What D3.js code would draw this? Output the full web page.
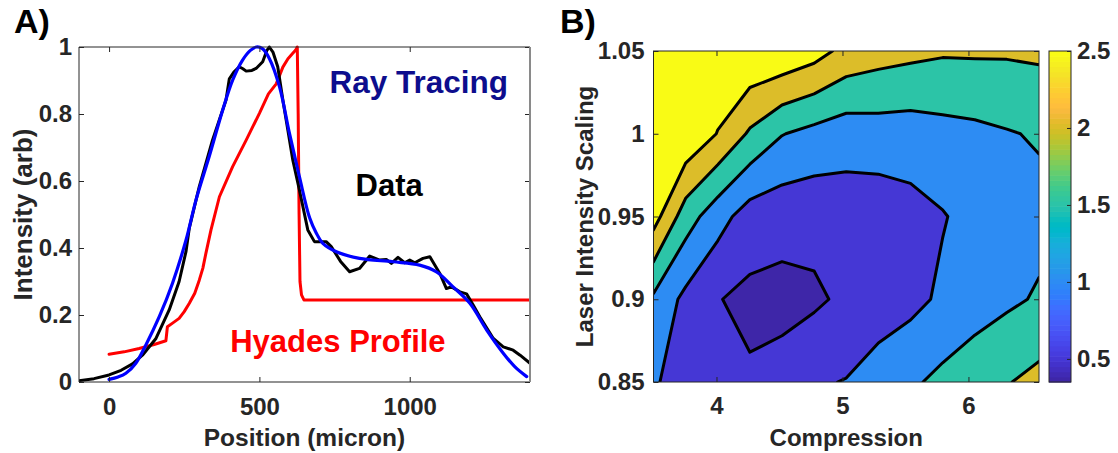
<!DOCTYPE html>
<html>
<head>
<meta charset="utf-8">
<script src="https://cdn.jsdelivr.net/npm/d3@7"></script>
<style>
  html, body { margin: 0; padding: 0; background: #fff; }
  svg text { font-family: "Liberation Sans", Arial, Helvetica, sans-serif; font-weight: bold; }
</style>
</head>
<body>
<svg id="chart" width="1118" height="453"></svg>
<script>
// ---------------- Panel A data ----------------
const dataPos = [-100,-50,0,40,78,111,156,200,233,256,267,300,344,389,400,415,433,445,456,475,489,511,525,533,545,561,578,595,611,633,661,683,722,739,770,800,833,867,900,922,939,961,983,1000,1017,1044,1067,1100,1122,1139,1167,1189,1211,1233,1278,1311,1344,1367,1400];
const dataInt = [0.004,0.01,0.021,0.035,0.054,0.08,0.13,0.215,0.3,0.39,0.46,0.583,0.722,0.842,0.905,0.925,0.941,0.935,0.928,0.93,0.936,0.956,0.99,1.0,0.985,0.941,0.842,0.75,0.663,0.573,0.454,0.419,0.419,0.404,0.36,0.329,0.339,0.376,0.364,0.366,0.354,0.372,0.356,0.364,0.356,0.369,0.374,0.324,0.279,0.284,0.269,0.263,0.23,0.195,0.13,0.105,0.095,0.08,0.056];

const rayPos = [0,30,56,89,122,167,211,256,289,333,378,411,444,470,490,510,533,567,600,633,667,689,711,756,833,944,1033,1089,1144,1200,1256,1311,1350,1389];
const rayInt = [0.008,0.015,0.026,0.056,0.11,0.195,0.295,0.424,0.543,0.673,0.812,0.901,0.961,0.99,1.0,0.995,0.966,0.881,0.742,0.613,0.49,0.445,0.414,0.389,0.369,0.359,0.349,0.329,0.284,0.235,0.155,0.086,0.045,0.016];

const hyadesPos = [0,50,100,150,189,194,210,233,250,267,285,300,312,322,339,367,411,456,500,530,556,578,595,611,620,626,629,632,635,640,648,1400];
const hyadesInt = [0.083,0.09,0.1,0.112,0.123,0.165,0.175,0.19,0.21,0.235,0.265,0.304,0.34,0.384,0.454,0.553,0.643,0.722,0.802,0.86,0.89,0.94,0.965,0.981,0.99,1.0,0.8,0.5,0.3,0.26,0.245,0.245];

const aXTicks = [0, 500, 1000];
const aXTickLabels = ["0", "500", "1000"];
const aYTicks = [0, 0.2, 0.4, 0.6, 0.8, 1];
const aYTickLabels = ["0", "0.2", "0.4", "0.6", "0.8", "1"];

// ---------------- Panel B data ----------------
const compressionGrid = [3.5, 3.755, 4.01, 4.265, 4.52, 4.775, 5.03, 5.285, 5.54, 5.795, 6.05, 6.305, 6.56];
const intensityGrid = [0.85, 0.9, 0.95, 1.0, 1.05];
// rows follow intensityGrid, columns follow compressionGrid
const zRow085 = [1.10, 0.60, 0.62, 0.563, 0.69, 0.946, 1.02, 1.268, 1.42, 1.626, 1.89, 1.97, 2.15];
const zRow090 = [1.41, 0.87, 0.52, 0.388, 0.35, 0.415, 0.60, 0.70, 0.86, 1.083, 1.20, 1.41, 1.55];
const zRow095 = [2.71, 1.74, 1.20, 0.762, 0.68, 0.664, 0.742, 0.722, 0.83, 0.971, 1.15, 1.30, 1.36];
const zRow100 = [3.00, 2.92, 2.48, 1.93, 1.52, 1.35, 1.22, 1.265, 1.255, 1.333, 1.385, 1.467, 1.545];
const zRow105 = [3.20, 3.10, 2.90, 2.95, 2.90, 2.70, 2.35, 2.21, 2.13, 2.058, 2.064, 2.06, 2.09];
const contourLevels = [0.5, 1, 1.5, 2, 2.5];
const colorLimits = [0.35, 2.5];
const bXTicks = [4, 5, 6];
const bXTickLabels = ["4", "5", "6"];
const bYTicks = [0.85, 0.9, 0.95, 1, 1.05];
const bYTickLabels = ["0.85", "0.9", "0.95", "1", "1.05"];
const cbTicks = [0.5, 1, 1.5, 2, 2.5];
const cbTickLabels = ["0.5", "1", "1.5", "2", "2.5"];

// parula colormap (64 entries)
const parula = [
[0.2422,0.1504,0.6603],[0.2504,0.1650,0.7076],[0.2578,0.1818,0.7511],[0.2647,0.1978,0.7952],[0.2706,0.2147,0.8364],[0.2751,0.2342,0.8710],[0.2783,0.2559,0.8991],[0.2803,0.2782,0.9221],
[0.2813,0.3006,0.9414],[0.2810,0.3228,0.9579],[0.2795,0.3447,0.9717],[0.2760,0.3667,0.9829],[0.2699,0.3892,0.9906],[0.2602,0.4123,0.9952],[0.2440,0.4358,0.9988],[0.2206,0.4603,0.9973],
[0.1963,0.4847,0.9892],[0.1834,0.5074,0.9798],[0.1786,0.5289,0.9682],[0.1764,0.5499,0.9520],[0.1687,0.5703,0.9359],[0.1540,0.5902,0.9218],[0.1460,0.6091,0.9079],[0.1380,0.6276,0.8973],
[0.1248,0.6459,0.8883],[0.1113,0.6635,0.8763],[0.0952,0.6798,0.8598],[0.0689,0.6948,0.8394],[0.0297,0.7082,0.8163],[0.0036,0.7203,0.7917],[0.0067,0.7312,0.7660],[0.0433,0.7411,0.7394],
[0.0964,0.7500,0.7120],[0.1408,0.7584,0.6842],[0.1717,0.7670,0.6554],[0.1938,0.7758,0.6251],[0.2161,0.7843,0.5923],[0.2470,0.7918,0.5567],[0.2906,0.7973,0.5188],[0.3406,0.8008,0.4789],
[0.3909,0.8029,0.4354],[0.4456,0.8024,0.3909],[0.5044,0.7993,0.3480],[0.5616,0.7942,0.3045],[0.6174,0.7876,0.2612],[0.6720,0.7793,0.2227],[0.7242,0.7698,0.1910],[0.7738,0.7598,0.1646],
[0.8203,0.7498,0.1535],[0.8634,0.7406,0.1596],[0.9035,0.7330,0.1774],[0.9393,0.7288,0.2100],[0.9728,0.7298,0.2394],[0.9956,0.7434,0.2371],[0.9970,0.7659,0.2199],[0.9952,0.7893,0.2028],
[0.9892,0.8136,0.1885],[0.9786,0.8386,0.1766],[0.9676,0.8639,0.1643],[0.9610,0.8890,0.1537],[0.9597,0.9135,0.1423],[0.9628,0.9373,0.1265],[0.9691,0.9606,0.1064],[0.9769,0.9839,0.0805]
].map(c => d3.rgb(c[0]*255, c[1]*255, c[2]*255).formatHex());

function cmap(v) {
  const t = (v - colorLimits[0]) / (colorLimits[1] - colorLimits[0]);
  const idx = Math.max(0, Math.min(63, Math.floor(t * 64)));
  return parula[idx];
}

// ---------------- Layout ----------------
const svg = d3.select("#chart");
const axisColor = "#262626";
const A = { left: 79, right: 530, top: 47, bottom: 382 };
const B = { left: 653.5, right: 1039, top: 51, bottom: 382 };
const CB = { left: 1049, right: 1071, top: 51, bottom: 382 };
const tickLen = 5;

// ---------------- Panel A ----------------
const xA = d3.scaleLinear().domain([-100, 1400]).range([A.left, A.right]);
const yA = d3.scaleLinear().domain([0, 1]).range([A.bottom, A.top]);

const defs = svg.append("defs");
defs.append("clipPath").attr("id", "clipA").append("rect")
  .attr("x", A.left).attr("y", A.top - 2).attr("width", A.right - A.left).attr("height", A.bottom - A.top + 2);

const gA = svg.append("g");
function drawLine(pos, val, color, width, curve) {
  const pts = pos.map((p, i) => [p, val[i]]);
  gA.append("path")
    .attr("clip-path", "url(#clipA)")
    .attr("d", d3.line().x(d => xA(d[0])).y(d => yA(d[1])).curve(curve)(pts))
    .attr("fill", "none").attr("stroke", color).attr("stroke-width", width)
    .attr("stroke-linejoin", "round").attr("stroke-linecap", "round");
}
drawLine(hyadesPos, hyadesInt, "#ff0000", 3, d3.curveLinear);
drawLine(dataPos, dataInt, "#000000", 3, d3.curveLinear);
drawLine(rayPos, rayInt, "#0000ff", 3.2, d3.curveCatmullRom);

function styleAxis(g, size) {
  g.select(".domain").remove();
  g.selectAll(".tick line").attr("stroke", axisColor).attr("stroke-width", 1);
  g.selectAll(".tick text").attr("fill", axisColor).style("font-size", size + "px");
}
const fsA = 24;
svg.append("g").attr("transform", `translate(0,${A.bottom})`)
  .call(d3.axisBottom(xA).tickValues(aXTicks).tickFormat((d, i) => aXTickLabels[i]).tickSize(-tickLen).tickPadding(16))
  .call(g => styleAxis(g, fsA));
svg.append("g").attr("transform", `translate(0,${A.top})`)
  .call(d3.axisTop(xA).tickValues(aXTicks).tickFormat("").tickSize(-tickLen))
  .call(g => styleAxis(g, fsA));
svg.append("g").attr("transform", `translate(${A.left},0)`)
  .call(d3.axisLeft(yA).tickValues(aYTicks).tickFormat((d, i) => aYTickLabels[i]).tickSize(-tickLen).tickPadding(7))
  .call(g => styleAxis(g, fsA));
svg.append("g").attr("transform", `translate(${A.right},0)`)
  .call(d3.axisRight(yA).tickValues(aYTicks).tickFormat("").tickSize(-tickLen))
  .call(g => styleAxis(g, fsA));
// box
svg.append("path").attr("d", `M${A.left},${A.bottom}V${A.top}H${A.right}`).attr("fill", "none").attr("stroke", axisColor).attr("stroke-width", 1);
svg.append("path").attr("d", `M${A.left},${A.bottom}H${A.right}`).attr("fill", "none").attr("stroke", axisColor).attr("stroke-width", 1.2);
svg.append("path").attr("d", `M${A.right},${A.top}V${A.bottom}`).attr("fill", "none").attr("stroke", "#8a8a8a").attr("stroke-width", 2);

// annotations
svg.append("text").attr("x", xA(733)).attr("y", yA(0.862)).attr("fill", "#0d0d8d").style("font-size", "31.5px").text("Ray Tracing");
svg.append("text").attr("x", xA(820)).attr("y", yA(0.555)).attr("fill", "#000").style("font-size", "31px").text("Data");
svg.append("text").attr("x", xA(403)).attr("y", yA(0.09)).attr("fill", "#ff0000").style("font-size", "31px").text("Hyades Profile");

// axis labels
svg.append("text").attr("x", (A.left + A.right) / 2).attr("y", 445.5).attr("text-anchor", "middle")
  .attr("fill", axisColor).style("font-size", "24.5px").text("Position (micron)");
svg.append("text").attr("transform", `translate(32,${(A.top + A.bottom) / 2}) rotate(-90)`).attr("text-anchor", "middle")
  .attr("fill", axisColor).style("font-size", "26px").text("Intensity (arb)");
svg.append("text").attr("x", 14).attr("y", 33).attr("fill", "#000").style("font-size", "34px").text("A)");

// ---------------- Panel B ----------------
const xB = d3.scaleLinear().domain([3.5, 6.56]).range([B.left, B.right]);
const yB = d3.scaleLinear().domain([0.85, 1.05]).range([B.bottom, B.top]);
const nx = compressionGrid.length, ny = intensityGrid.length;
// grid-index -> data scales (sample i sits at index coordinate i + 0.5)
const gx = d3.scaleLinear().domain([0.5, nx - 0.5]).range([compressionGrid[0], compressionGrid[nx - 1]]);
const gy = d3.scaleLinear().domain([0.5, ny - 0.5]).range([intensityGrid[0], intensityGrid[ny - 1]]);
const zRows = [zRow085, zRow090, zRow095, zRow100, zRow105];
const values = [].concat(...zRows);

defs.append("clipPath").attr("id", "clipB").append("rect")
  .attr("x", B.left).attr("y", B.top).attr("width", B.right - B.left).attr("height", B.bottom - B.top);

const contours = d3.contours().size([nx, ny]).thresholds(contourLevels)(values);
const proj = d3.geoTransform({
  point: function (x, y) { this.stream.point(xB(gx(x)), yB(gy(y))); }
});
const pathB = d3.geoPath(proj);
const gB = svg.append("g").attr("clip-path", "url(#clipB)");
gB.append("rect").attr("x", B.left).attr("y", B.top).attr("width", B.right - B.left).attr("height", B.bottom - B.top)
  .attr("fill", cmap(d3.min(values)));
gB.selectAll("path.fill").data(contours).join("path").attr("class", "fill")
  .attr("d", pathB).attr("fill", d => cmap(d.value)).attr("stroke", d => cmap(d.value)).attr("stroke-width", 0.5);
gB.selectAll("path.line").data(contours).join("path").attr("class", "line")
  .attr("d", pathB).attr("fill", "none").attr("stroke", "#000").attr("stroke-width", 3).attr("stroke-linejoin", "round");

const fsB = 24;
svg.append("g").attr("transform", `translate(0,${B.bottom})`)
  .call(d3.axisBottom(xB).tickValues(bXTicks).tickFormat((d, i) => bXTickLabels[i]).tickSize(-tickLen).tickPadding(15))
  .call(g => styleAxis(g, fsB));
svg.append("g").attr("transform", `translate(0,${B.top})`)
  .call(d3.axisTop(xB).tickValues(bXTicks).tickFormat("").tickSize(-tickLen))
  .call(g => styleAxis(g, fsB));
svg.append("g").attr("transform", `translate(${B.left},0)`)
  .call(d3.axisLeft(yB).tickValues(bYTicks).tickFormat((d, i) => bYTickLabels[i]).tickSize(-tickLen).tickPadding(9))
  .call(g => styleAxis(g, fsB));
svg.append("g").attr("transform", `translate(${B.right},0)`)
  .call(d3.axisRight(yB).tickValues(bYTicks).tickFormat("").tickSize(-tickLen))
  .call(g => styleAxis(g, fsB));
svg.append("rect").attr("x", B.left).attr("y", B.top).attr("width", B.right - B.left).attr("height", B.bottom - B.top)
  .attr("fill", "none").attr("stroke", axisColor).attr("stroke-width", 1);

svg.append("text").attr("x", (B.left + B.right) / 2).attr("y", 446).attr("text-anchor", "middle")
  .attr("fill", axisColor).style("font-size", "24px").text("Compression");
svg.append("text").attr("transform", `translate(593,${(B.top + B.bottom) / 2}) rotate(-90)`).attr("text-anchor", "middle")
  .attr("fill", axisColor).style("font-size", "24px").text("Laser Intensity Scaling");
svg.append("text").attr("x", 560).attr("y", 33).attr("fill", "#000").style("font-size", "34px").text("B)");

// ---------------- Colorbar ----------------
const yC = d3.scaleLinear().domain(colorLimits).range([CB.bottom, CB.top]);
const nC = parula.length;
const cbStep = (colorLimits[1] - colorLimits[0]) / nC;
svg.append("g").selectAll("rect").data(parula).join("rect")
  .attr("x", CB.left).attr("width", CB.right - CB.left)
  .attr("y", (d, i) => yC(colorLimits[0] + (i + 1) * cbStep))
  .attr("height", (d, i) => yC(colorLimits[0] + i * cbStep) - yC(colorLimits[0] + (i + 1) * cbStep) + 0.6)
  .attr("fill", d => d);
svg.append("g").attr("transform", `translate(${CB.right},0)`)
  .call(d3.axisRight(yC).tickValues(cbTicks).tickFormat((d, i) => cbTickLabels[i]).tickSize(-4).tickPadding(6))
  .call(g => styleAxis(g, fsB));
svg.append("rect").attr("x", CB.left).attr("y", CB.top).attr("width", CB.right - CB.left).attr("height", CB.bottom - CB.top)
  .attr("fill", "none").attr("stroke", axisColor).attr("stroke-width", 1);
</script>
</body>
</html>
